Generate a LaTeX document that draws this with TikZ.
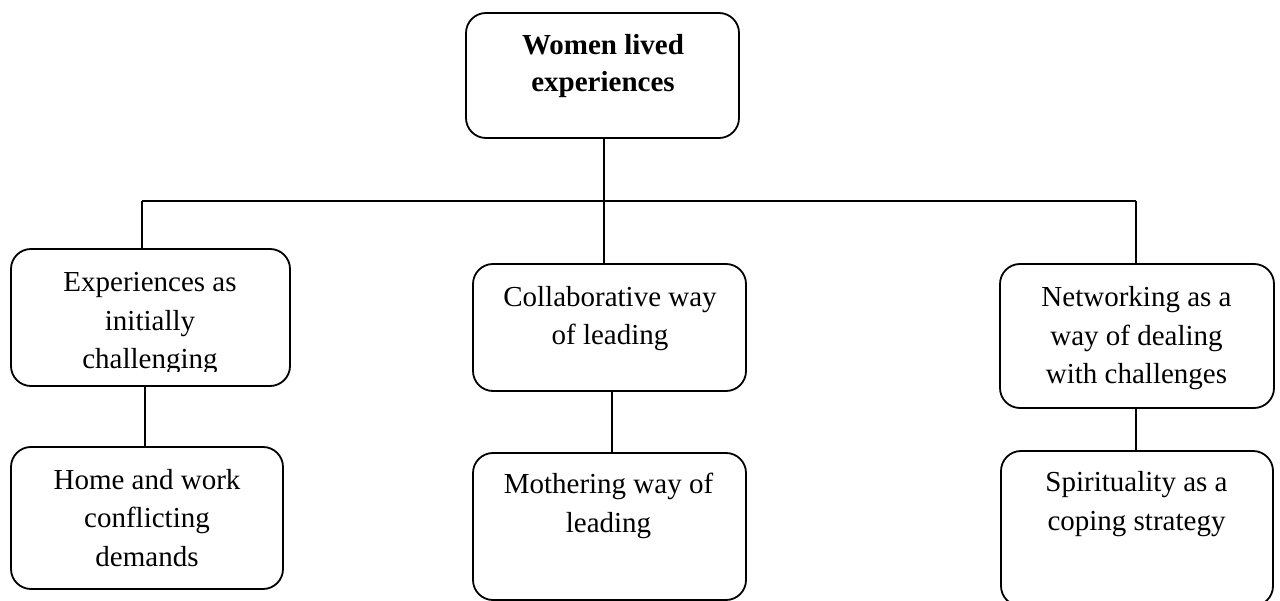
\documentclass[tikz,border=0pt]{standalone}
\usepackage{fontspec}
\setmainfont{Liberation Serif}
\begin{document}
\begin{tikzpicture}[x=1pt,y=-1pt,
  box/.style={draw=black,line width=1.8pt,rounded corners=20pt,inner sep=0pt,outer sep=0pt},
  txt/.style={inner sep=0pt,align=center,anchor=base,font=\fontsize{29}{38.5}\selectfont},
  btxt/.style={inner sep=0pt,align=center,anchor=base,font=\fontsize{29}{37}\selectfont\bfseries},
  conn/.style={line width=1.8pt}]
\useasboundingbox (0,0) rectangle (1280,601);
\begin{scope}
\clip (0,0) rectangle (1280,601);
% boxes
\node[box,minimum width=273pt,minimum height=125pt] (b0) at (602.5,75.5) {};
\node[box,minimum width=279pt,minimum height=137pt] (b1) at (150.5,317.5) {};
\node[box,minimum width=273pt,minimum height=127pt] (b2) at (609.5,327.5) {};
\node[box,minimum width=274pt,minimum height=144pt] (b3) at (1137,336) {};
\node[box,minimum width=272pt,minimum height=142pt] (b4) at (147,518) {};
\node[box,minimum width=273pt,minimum height=147pt] (b5) at (609.5,526.5) {};
\node[box,minimum width=272pt,minimum height=155pt] (b6) at (1137,528.5) {};
% texts (anchor base = baseline of the last line)
\node[btxt] (t0) at (603,92) {Women lived\\experiences};
\begin{scope}
\clip (0,0) rectangle (1280,372);
\node[txt] (t1) at (150,369) {Experiences as\\initially\\challenging};
\end{scope}
\node[txt] (t2) at (610,345) {Collaborative way\\of leading};
\node[txt] (t3) at (1136.5,384) {Networking as a\\way of dealing\\with challenges};
\node[txt] (t4) at (147,566) {Home and work\\conflicting\\demands};
\node[txt] (t5) at (608.5,532) {Mothering way of\\leading};
\node[txt] (t6) at (1136.5,530) {Spirituality as a\\coping strategy};
% connectors
\coordinate (hl) at (142,201);
\coordinate (hm) at (604,201);
\coordinate (hr) at (1136,201);
\draw[conn] (b0.south -| hm) -- (b2.north -| hm);
\draw[conn] (hl) -- (hr);
\draw[conn] (hl) -- (b1.north -| hl);
\draw[conn] (hr) -- (b3.north -| hr);
\draw[conn] ([xshift=-5.5pt]b1.south) -- ([xshift=-2pt]b4.north);
\draw[conn] ([xshift=2.5pt]b2.south) -- ([xshift=2.5pt]b5.north);
\draw[conn] ([xshift=-1pt]b3.south) -- ([xshift=-1pt]b6.north);
\end{scope}
\end{tikzpicture}
\end{document}
